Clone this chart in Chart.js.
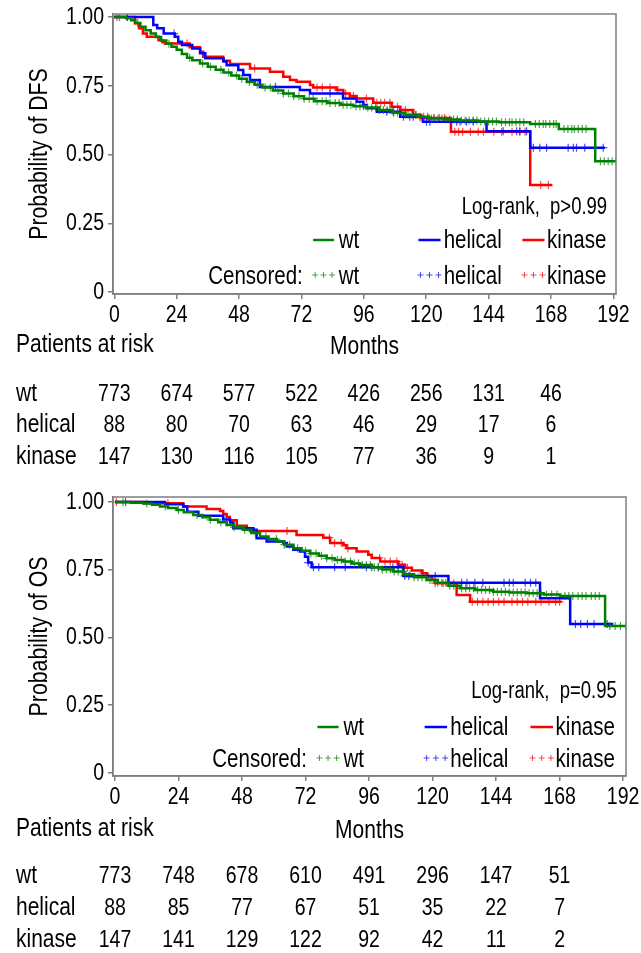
<!DOCTYPE html>
<html>
<head>
<meta charset="utf-8">
<script src="https://cdn.jsdelivr.net/npm/chart.js@4"></script>
<style>
  body { margin: 0; background: #fff; }
  .box { position: absolute; left: 0; width: 641px; }
</style>
</head>
<body>
<div class="box" style="top:0;height:476px"><canvas id="chart_dfs" width="641" height="476"></canvas></div>
<div class="box" style="top:476px;height:477px"><canvas id="chart_os" width="641" height="477"></canvas></div>
<script>
// groups + axis ticks
const groups = ['wt', 'helical', 'kinase']
const month_ticks = [0, 24, 48, 72, 96, 120, 144, 168, 192]
const surv_ticks = [0, 0.25, 0.5, 0.75, 1]
const risk_months = [0, 24, 48, 72, 96, 120, 144, 168]

// DFS curves (month where the step lands, survival after it)
const dfs_wt_time = [0, 4.5, 6.5, 8, 10, 12, 14, 16, 18, 20, 22, 24, 26, 28, 30, 33, 36, 39, 42, 45, 48, 51, 54, 57, 61, 65, 69, 73, 77, 82, 87, 92, 97, 102, 107, 112, 117, 121, 127, 133, 140, 148, 160, 171, 185, 193]
const dfs_wt_surv = [1, .996, .988, .978, .965, .952, .94, .927, .915, .903, .892, .881, .866, .852, .843, .831, .819, .808, .798, .787, .776, .764, .754, .744, .733, .722, .712, .703, .694, .687, .681, .676, .671, .662, .652, .644, .637, .631, .627, .624, .620, .617, .611, .593, .476, .476]
const dfs_wt_cens = [2, 9, 21, 29, 34, 37, 41, 44, 47, 49, 52, 55, 58, 60, 63, 65, 67, 69, 71, 73, 75, 76.5, 78, 80, 81.5, 83, 85, 86.5, 88, 89.5, 91, 93, 94.5, 96, 97.5, 99, 100.5, 102, 103.5, 105, 106, 107.5, 109, 110.5, 112, 113, 114.5, 116, 117.5, 119, 120.5, 122, 123, 124.5, 126, 127.5, 129, 130.5, 132, 133.5, 135, 136.5, 138, 139.5, 141, 142.5, 144, 145.5, 147, 149, 150.5, 152, 153, 154.5, 156, 157.5, 162, 163.5, 165, 166, 167.5, 169, 170, 173, 174.5, 176, 177, 178.5, 180, 181.5, 187, 188.5, 190, 191.5, 193]

const dfs_helical_time = [0, 15, 16.5, 19, 23.3, 24.6, 26, 30, 33, 35, 42, 43.2, 47.7, 49.6, 52.2, 56, 71.4, 75.3, 88, 93.2, 95.8, 97, 101, 110, 118.8, 143.2, 160, 188.7]
const dfs_helical_surv = [1, .971, .959, .94, .928, .91, .898, .886, .868, .85, .838, .825, .807, .789, .771, .746, .735, .722, .704, .692, .68, .668, .656, .637, .619, .585, .525, .525]
const dfs_helical_cens = [5, 23, 62, 83, 95.8, 104.8, 107.3, 111.2, 113.7, 115, 120.1, 121.4, 131.7, 133, 135.5, 138.1, 149.6, 154.8, 156, 158.6, 161.2, 163.7, 166.3, 174.6, 176.6, 177.8, 181, 188.1]

const dfs_kinase_time = [0, 8, 9.5, 11, 12.5, 17, 18.5, 19.5, 29, 33, 34.2, 41.9, 44.5, 52.2, 59.9, 65, 67.6, 70.1, 75.3, 76.5, 85.5, 88.1, 90.6, 93.2, 99.6, 106.7, 110, 115, 118, 129.5, 160, 168.5]
const dfs_kinase_surv = [1, .977, .959, .94, .928, .916, .908, .904, .89, .874, .856, .841, .829, .813, .801, .783, .771, .765, .753, .744, .735, .722, .713, .704, .688, .674, .662, .645, .633, .583, .389, .389]
const dfs_kinase_cens = [1, 5, 28, 54, 78, 80, 83, 86, 89, 92, 97, 101, 102.5, 104, 106, 109, 112, 116, 118, 121, 123, 125, 127, 131, 132.5, 134, 137, 140, 142, 146, 149, 153, 156, 158, 164, 167]

// OS curves
const os_wt_time = [0, 6, 10.7, 14, 17, 20, 23.3, 26, 29.6, 33, 35.9, 39, 42.2, 45, 48.5, 51.5, 54.8, 58, 61.1, 64, 67.4, 70.5, 73.7, 77, 80, 83, 86.3, 89.5, 92.6, 97, 101, 105.2, 109, 113, 117.8, 122, 126, 130.4, 136, 143, 149, 155.6, 162, 168.2, 185.2, 193.4]
const os_wt_surv = [1, .997, .994, .989, .983, .977, .97, .962, .952, .943, .934, .925, .915, .906, .897, .885, .872, .863, .854, .842, .829, .82, .81, .801, .792, .786, .78, .773, .767, .759, .751, .743, .733, .722, .712, .702, .691, .681, .675, .669, .666, .663, .658, .653, .542, .542]
const os_wt_cens = [3, 12, 19, 24, 31, 36, 40, 45, 49, 53, 57, 61, 64, 66, 69, 72, 74, 76, 78, 80, 82, 84, 85.5, 87, 89, 90.5, 92, 93.5, 95, 96.5, 98, 99.5, 101, 102.5, 104, 105.5, 107, 108.5, 110, 111.5, 113, 114.5, 116, 117.5, 119, 120.5, 122, 123.5, 125, 126.5, 128, 129.5, 131, 132.5, 134, 135.5, 137, 138.5, 140, 141.5, 143, 144.5, 146, 147.5, 149, 150.5, 152, 153.5, 155, 156.5, 158, 159.5, 161, 163, 165, 167, 170, 171.5, 173, 175, 176.5, 178, 180, 181.5, 183, 187, 189, 191, 193]

const os_helical_time = [0, 18.9, 25.8, 27.3, 31.5, 40.9, 43.5, 44.7, 52.3, 53.5, 57.3, 63.6, 64.9, 67.4, 69.9, 71.8, 73, 74.3, 109, 126, 160.6, 172, 188.3]
const os_helical_surv = [1, .991, .983, .964, .949, .935, .924, .903, .897, .866, .854, .848, .835, .823, .817, .798, .776, .759, .727, .702, .645, .55, .55]
const os_helical_cens = [4, 73, 75, 77, 83, 87, 95, 97, 99.5, 105, 107, 109.5, 111, 121, 131, 133, 136, 139, 147, 149, 150.5, 155, 157, 159, 174, 176, 178.5, 181, 186]

const os_kinase_time = [0, 10.7, 25.8, 34.6, 39.7, 40.9, 42.2, 43.4, 46, 49.8, 51, 68.6, 78.7, 81.3, 86.3, 87.5, 91.3, 95.7, 97, 100.2, 107.1, 109.6, 112.2, 116, 117.8, 119.7, 121, 129.1, 134.2, 168.8]
const os_kinase_surv = [1, .995, .983, .974, .966, .955, .944, .932, .912, .903, .893, .878, .868, .848, .84, .829, .817, .805, .793, .78, .768, .757, .747, .737, .725, .712, .70, .657, .632, .632]
const os_kinase_cens = [0.5, 20, 65, 81, 83, 85.5, 88, 100, 102, 104, 106.5, 108.5, 110.5, 116.5, 118.5, 121, 124, 126, 128, 135, 137, 139, 141, 143, 145, 147, 150, 152, 154, 156, 159, 161, 164, 166.5, 168]

// patients at risk
const dfs_risk_wt = [773, 674, 577, 522, 426, 256, 131, 46]
const dfs_risk_helical = [88, 80, 70, 63, 46, 29, 17, 6]
const dfs_risk_kinase = [147, 130, 116, 105, 77, 36, 9, 1]
const os_risk_wt = [773, 748, 678, 610, 491, 296, 147, 51]
const os_risk_helical = [88, 85, 77, 67, 51, 35, 22, 7]
const os_risk_kinase = [147, 141, 129, 122, 92, 42, 11, 2]

const line_colors = ['#008000', '#0000ff', '#ff0000']
const cens_colors = ['rgba(0,128,0,0.7)', 'rgba(0,0,255,0.7)', 'rgba(255,0,0,0.7)']
const frame_color = '#7f7f7f'
const font_family = '"Liberation Sans", Arial, sans-serif'
const text_stretch = 1.25   // the original lettering is taller than it is wide

function surv_at(times, surv, t) {
    let s = surv[0]
    for (let i = 0; i < times.length; i++) {
        if (times[i] <= t) s = surv[i]
    }
    return s
}

function make_sets(curves) {
    let sets = []
    curves.forEach((c, i) => {
        sets.push({
            type: 'line',
            label: groups[i],
            data: c[0].map((t, k) => ({x: t, y: c[1][k]})),
            borderColor: line_colors[i],
            borderWidth: 2.5,
            stepped: 'before',
            pointRadius: 0,
            fill: false,
        })
        sets.push({
            type: 'scatter',
            label: groups[i] + ' censored',
            data: c[2].map(t => ({x: t, y: surv_at(c[0], c[1], t)})),
            pointStyle: 'cross',
            pointRadius: 4,
            borderColor: cens_colors[i],
            borderWidth: 1.2,
            showLine: false,
        })
    })
    return sets
}

function draw_cross(ctx, x, y, r) {
    ctx.beginPath()
    ctx.moveTo(x - r, y); ctx.lineTo(x + r, y)
    ctx.moveTo(x, y - r); ctx.lineTo(x, y + r)
    ctx.stroke()
}

function put_text(ctx, str, x, y, align, size, rot) {
    ctx.save()
    ctx.font = size + 'px ' + font_family
    ctx.textAlign = align
    ctx.textBaseline = 'middle'
    ctx.fillStyle = '#000'
    ctx.translate(x, y)
    if (rot) ctx.rotate(rot)
    ctx.scale(1, text_stretch)
    ctx.fillText(str, 0, 0)
    ctx.restore()
}

const surv_label = v => v === 0 ? '0' : v.toFixed(2)

// frame, tick labels, legend, log-rank text and the at-risk table
const km_text = {
    id: 'km_text',
    afterDraw(chart, args, o) {
        const ctx = chart.ctx
        const a = chart.chartArea
        const xs = chart.scales.x
        const ys = chart.scales.y
        ctx.save()
        ctx.strokeStyle = frame_color
        ctx.lineWidth = 1.5
        ctx.strokeRect(a.left, a.top, a.right - a.left, a.bottom - a.top)
        ctx.restore()

        xs.ticks.forEach(t => put_text(ctx, String(t.value), xs.getPixelForValue(t.value), a.bottom + 21, 'center', 19.5))
        ys.ticks.forEach(t => put_text(ctx, surv_label(t.value), 104, ys.getPixelForValue(t.value), 'right', 19.5))
        put_text(ctx, o.title, 40, (a.top + a.bottom) / 2, 'center', 21.3, -Math.PI / 2)

        put_text(ctx, o.logrank, xs.getPixelForValue(189.6), a.bottom - o.logrank_dy, 'right', 18.5)
        put_text(ctx, 'Censored:', xs.getPixelForValue(72.5), a.bottom - o.row2_dy, 'right', 20.5)

        const line_from = [76.5, 117, 157]
        const line_to = [84.5, 125.5, 165.5]
        const text_at = [86.3, 126.7, 166.5]
        groups.forEach((g, i) => {
            const x0 = xs.getPixelForValue(line_from[i])
            const x1 = xs.getPixelForValue(line_to[i])
            const y1 = a.bottom - o.row1_dy
            const y2 = a.bottom - o.row2_dy
            ctx.save()
            ctx.strokeStyle = line_colors[i]
            ctx.lineWidth = 2.5
            ctx.beginPath(); ctx.moveTo(x0, y1); ctx.lineTo(x1, y1); ctx.stroke()
            ctx.strokeStyle = cens_colors[i]
            ctx.lineWidth = 1
            for (let k = 0; k < 3; k++) draw_cross(ctx, x0 + 2 + k * (x1 - x0 - 4) / 2, y2 - 2, 3)
            ctx.restore()
            put_text(ctx, g, xs.getPixelForValue(text_at[i]), y1 + 1, 'left', 20.5)
            put_text(ctx, g, xs.getPixelForValue(text_at[i]), y2, 'left', 20.5)
        })

        // patients at risk
        put_text(ctx, 'Patients at risk', 16, a.bottom + o.head_dy, 'left', 21)
        put_text(ctx, 'Months', (a.left + a.right) / 2, a.bottom + o.head_dy + 2, 'center', 21)
        o.risk.forEach((row, r) => {
            const y = a.bottom + o.row_dy[r]
            put_text(ctx, groups[r], 16, y, 'left', 21)
            row.forEach((n, j) => put_text(ctx, String(n), xs.getPixelForValue(risk_months[j]), y, 'center', 19.5))
        })
    }
}

function make_km(canvas_id, curves, x_range, y_range, pad, text_opts) {
    const el = document.getElementById(canvas_id)
    return new Chart(el, {
        data: { datasets: make_sets(curves) },
        options: {
            responsive: false,
            animation: false,
            layout: { padding: pad },
            scales: {
                x: {
                    type: 'linear',
                    min: x_range[0],
                    max: x_range[1],
                    afterBuildTicks: s => { s.ticks = month_ticks.map(v => ({value: v})) },
                    afterFit: s => { s.height = 40; s.paddingLeft = 0; s.paddingRight = 0 },
                    ticks: { display: false },
                    grid: {
                        display: true,
                        drawOnChartArea: false,
                        drawTicks: true,
                        tickLength: 5,
                        color: frame_color,
                        lineWidth: 1.5,
                    },
                    border: { display: true, color: frame_color, width: 1.5 },
                },
                y: {
                    type: 'linear',
                    min: y_range[0],
                    max: y_range[1],
                    afterBuildTicks: s => { s.ticks = surv_ticks.map(v => ({value: v})) },
                    afterFit: s => { s.width = 113; s.paddingTop = 0; s.paddingBottom = 0 },
                    ticks: { display: false },
                    grid: {
                        display: true,
                        drawOnChartArea: false,
                        drawTicks: true,
                        tickLength: 5,
                        color: frame_color,
                        lineWidth: 1.5,
                    },
                    border: { display: true, color: frame_color, width: 1.5 },
                },
            },
            plugins: {
                legend: { display: false },
                tooltip: { enabled: false },
                km_text: text_opts,
            },
        },
        plugins: [km_text],
    })
}

make_km('chart_dfs',
    [[dfs_wt_time, dfs_wt_surv, dfs_wt_cens],
     [dfs_helical_time, dfs_helical_surv, dfs_helical_cens],
     [dfs_kinase_time, dfs_kinase_surv, dfs_kinase_cens]],
    [-0.5, 193], [-0.007, 1.011],
    { top: 14, right: 25, bottom: 142, left: 0 },
    { title: 'Probability of DFS', logrank: 'Log-rank,  p>0.99', logrank_dy: 86, row1_dy: 54, row2_dy: 17,
      head_dy: 51, row_dy: [100, 131, 163],
      risk: [dfs_risk_wt, dfs_risk_helical, dfs_risk_kinase] })

make_km('chart_os',
    [[os_wt_time, os_wt_surv, os_wt_cens],
     [os_helical_time, os_helical_surv, os_helical_cens],
     [os_kinase_time, os_kinase_surv, os_kinase_cens]],
    [-0.76, 193.1], [-0.011, 1.018],
    { top: 21, right: 15, bottom: 137, left: 0 },
    { title: 'Probability of OS', logrank: 'Log-rank,  p=0.95', logrank_dy: 84, row1_dy: 49, row2_dy: 16,
      head_dy: 53, row_dy: [100, 132, 164],
      risk: [os_risk_wt, os_risk_helical, os_risk_kinase] })
</script>
</body>
</html>
